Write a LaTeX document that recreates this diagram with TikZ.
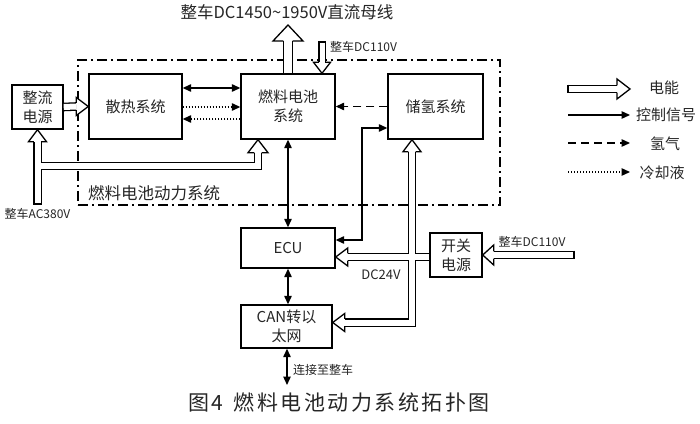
\documentclass[tikz,border=0pt]{standalone}
\usepackage{fontspec}
\setmainfont{Noto Sans CJK SC}
\newfontfamily\capfont[LetterSpace=12]{Noto Sans CJK SC}
\usetikzlibrary{arrows.meta,calc}
\newcommand{\hhead}[5]{\begin{scope}[shift={#1},rotate=#2]\filldraw[fill=white,line width=1.3pt,line join=miter] (-#3,#5) -- (-#3,#4) -- (0,0) -- (-#3,-#4) -- (-#3,-#5);\end{scope}}
\newcommand{\htail}[3]{\begin{scope}[shift={#1},rotate=#2]\draw[line width=1.3pt] (0,#3+0.65) -- (0,-#3-0.65);\end{scope}}
\begin{document}
\begin{tikzpicture}[x=1pt,y=1pt,
  box/.style={draw,line width=1.4pt,inner sep=0pt,align=center,text=black!85,font=\fontsize{15}{19}\selectfont},
  ctl/.style={line width=1.3pt,-{Triangle[length=8.5pt,width=7.5pt]}},
  ctlb/.style={line width=1.3pt,{Triangle[length=8.5pt,width=7.5pt]}-{Triangle[length=8.5pt,width=7.5pt]}},
  htwo/.style={ctl,dash pattern=on 8pt off 5pt},
  cool/.style={ctl,dash pattern=on 1.3pt off 1.7pt},
  pw/.style={double,double distance=6pt,line width=1.3pt},
  small/.style={font=\fontsize{12}{14}\selectfont,inner sep=0pt,text=black!85},
  mid/.style={font=\fontsize{16.5}{19}\selectfont,inner sep=0pt,text=black!85},
  leg/.style={font=\fontsize{15}{18}\selectfont,inner sep=0pt,text=black!85}]
\useasboundingbox (0,0) rectangle (700,423);
\fill[white] (0,0) rectangle (700,423);

% frame
\node[draw,line width=1.3pt,dash pattern=on 10pt off 4pt on 2pt off 4pt,minimum width=422pt,minimum height=145pt,inner sep=0pt] (frame) at (289,290.5) {};

% boxes
\node[box,minimum width=51pt,minimum height=44pt] (zl) at (37.5,316) {整流\\电源};
\node[box,minimum width=93pt,minimum height=65pt] (sr) at (135.5,316.5) {散热系统};
\node[box,minimum width=94pt,minimum height=65pt] (fc) at (288,316.5) {燃料电池\\系统};
\node[box,minimum width=95pt,minimum height=65pt] (cq) at (435.5,316.5) {储氢系统};
\node[box,minimum width=94pt,minimum height=40pt] (ecu) at (288,175) {ECU};
\node[box,minimum width=91pt,minimum height=43pt] (can) at (286.5,96.5) {CAN转以\\太网};
\node[box,minimum width=52pt,minimum height=44pt] (kg) at (456,168) {开关\\电源};

% labels
\node[mid] (busl) at (287,411) {整车DC1450\textasciitilde1950V直流母线};
\node[small,anchor=west] (dc1l) at (330,376) {整车DC110V};
\node[mid,anchor=west] (fsl) at (88,230) {燃料电池动力系统};
\node[small] (acl) at (37.5,209) {整车AC380V};
\node[small] (dc2l) at (532,181) {整车DC110V};
\node[font=\fontsize{13}{15}\selectfont,inner sep=0pt,text=black!85] (dc24) at (381,148) {DC24V};
\node[small,anchor=west] (ljl) at (293,53) {连接至整车};

% coordinates
\coordinate (ac) at (37.5,219);
\coordinate (acb) at (37.5,257);
\coordinate (acc) at (258,257);
\coordinate (busT) at (288,398);
\coordinate (dcT) at (322,381);
\coordinate (dcR) at (574,168);
\coordinate (vb) at (412,100.5);
\coordinate (c1) at (362,183);
\coordinate (c2) at (362,295);
\coordinate (out) at (287,38);

% control / coolant / hydrogen
\draw[ctlb] ([yshift=18.5pt]sr.east) -- ([yshift=18.5pt]fc.west);
\draw[cool] ([yshift=-0.5pt]sr.east) -- ([yshift=-0.5pt]fc.west);
\draw[cool] ([yshift=-12.5pt]fc.west) -- ([yshift=-12.5pt]sr.east);
\draw[htwo] (cq.west) -- (fc.east);
\draw[ctlb] ([yshift=8pt]ecu.east) -- (c1) -- (c2) -- ([yshift=-21.5pt]cq.west);
\draw[ctlb] (fc.south) -- (ecu.north);
\draw[ctlb] (ecu.south) -- (ecu.south |- can.north);
\draw[ctlb] (can.south -| out) -- (out);

% power
\draw[pw] (zl.east) -- ([xshift=-12pt]sr.west);
\hhead{(sr.west)}{0}{12}{9}{3.65}
\draw[pw] (ac) -- ([yshift=-12pt]zl.south) (acb) -- (acc) -- ([xshift=-30pt,yshift=-13pt]fc.south);
\hhead{(zl.south)}{90}{12}{9}{3.65}
\hhead{([xshift=-30pt]fc.south)}{90}{13}{10}{3.65}
\htail{(ac)}{90}{3.65}
\draw[pw,double distance=8pt] (fc.north) -- ([yshift=-16pt]busT);
\hhead{(busT)}{90}{16}{15}{4.65}
\draw[pw,double distance=5pt] (dcT) -- ([xshift=34pt,yshift=11pt]fc.north);
\hhead{([xshift=34pt]fc.north)}{-90}{11}{8.5}{3.15}
\htail{(dcT)}{90}{3.15}
\draw[pw] ([yshift=-2pt]kg.west) -- ([xshift=12pt,yshift=-9pt]ecu.east)
  ([xshift=-23.5pt,yshift=-12pt]cq.south) -- (vb) -- ([xshift=12pt,yshift=4pt]can.east);
\hhead{([yshift=-9pt]ecu.east)}{180}{12}{9}{3.65}
\hhead{([xshift=-23.5pt]cq.south)}{90}{12}{9}{3.65}
\hhead{([yshift=4pt]can.east)}{180}{12}{9}{3.65}
\draw[pw] (dcR) -- ([xshift=11pt]kg.east);
\hhead{(kg.east)}{180}{11}{10}{3.65}
\htail{(dcR)}{0}{3.65}

% legend
\coordinate (l1a) at (568,334); \coordinate (l1b) at (630,334);
\coordinate (l2a) at (568,308); \coordinate (l2b) at (630,308);
\coordinate (l3a) at (568,280); \coordinate (l3b) at (630,280);
\coordinate (l4a) at (568,251); \coordinate (l4b) at (630,251);
\draw[pw] (l1a) -- ([xshift=-13pt]l1b);
\hhead{(l1b)}{0}{13}{10}{3.65}
\htail{(l1a)}{0}{3.65}
\draw[ctl] (l2a) -- (l2b);
\draw[htwo] (l3a) -- (l3b);
\draw[cool] (l4a) -- (l4b);
\node[leg] (t1) at (664,335) {电能};
\node[leg] (t2) at (666,308) {控制信号};
\node[leg] (t3) at (665,279) {氢气};
\node[leg] (t4) at (662,250) {冷却液};

% caption
\node[font=\capfont\fontsize{21}{24}\selectfont,inner sep=0pt,text=black!85] (cap) at (339,20) {图4\hspace{0.5em}燃料电池动力系统拓扑图};
\end{tikzpicture}
\end{document}
